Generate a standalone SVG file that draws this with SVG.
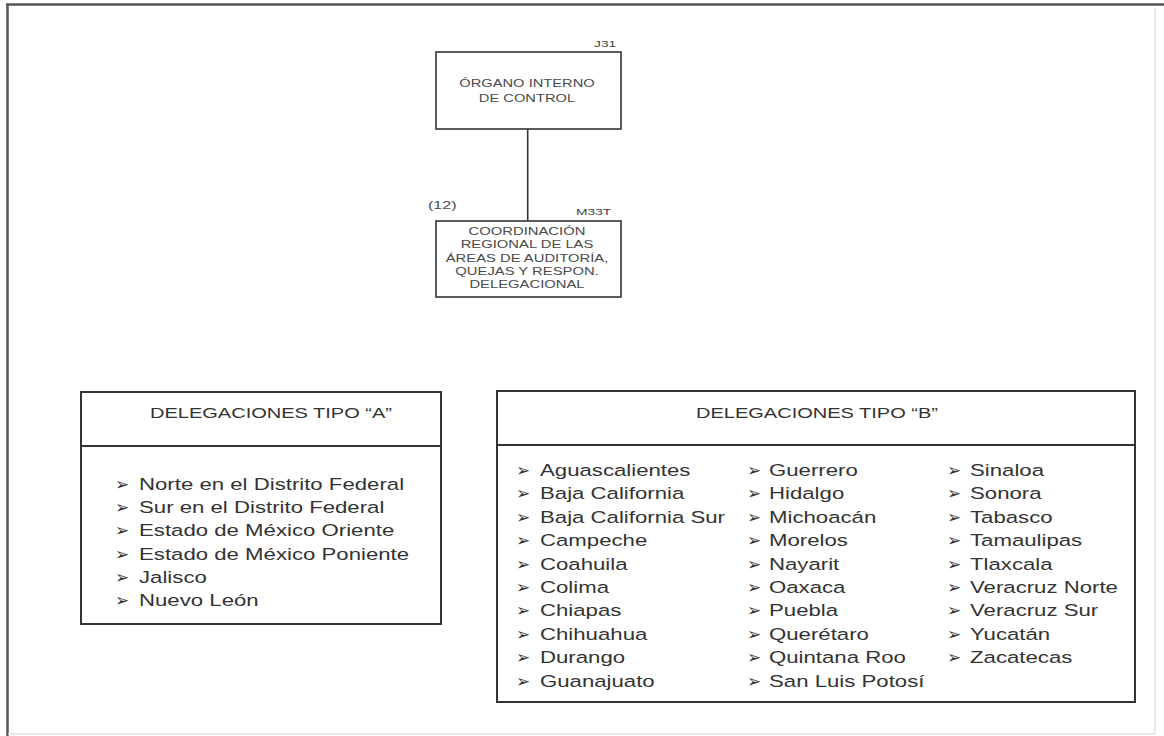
<svg xmlns="http://www.w3.org/2000/svg" width="1164" height="736" viewBox="0 0 1164 736">
<style>
.frame{fill:none;stroke:#555;stroke-width:2.5}
.faint{fill:none;stroke:#e2e2e2;stroke-width:1.5}
.box{fill:#fff;stroke:#333;stroke-width:2}
.sbox{fill:#fff;stroke:#333;stroke-width:1.6}
.conn{stroke:#333;stroke-width:1.6;fill:none}
text{font-family:"Liberation Sans",Arial,sans-serif;fill:#333}
.sm{font-size:10px;fill:#4a4a4a}
.sm2{font-size:10.5px;fill:#4a4a4a}
.code{font-size:9.5px;fill:#444}
.hdr{font-size:14.5px}
.li{font-size:16.5px}
.bul{font-family:"DejaVu Sans",sans-serif;font-size:17px;fill:#333}
</style>
<rect width="1164" height="736" fill="#fff"/>
<line class="frame" x1="6" y1="4.5" x2="1164" y2="4.5"/>
<line class="frame" x1="7.5" y1="4" x2="7.5" y2="736"/>
<line class="faint" x1="1155" y1="8" x2="1155" y2="734"/>
<line class="faint" x1="8" y1="734" x2="1155" y2="734"/>

<g id="connectors">
<line class="conn" x1="527.7" y1="129" x2="527.7" y2="221"/>
</g>

<g id="node-oic">
<rect class="sbox" x="436" y="52" width="185" height="77"/>
<text class="code" transform="translate(594,46.7) scale(1.45,1)">J31</text>
<g transform="translate(527,0) scale(1.47,1)">
<text class="sm" x="0" y="86.7" text-anchor="middle">ÓRGANO INTERNO</text>
<text class="sm" x="0" y="101.7" text-anchor="middle">DE CONTROL</text>
</g>
</g>

<g id="node-coord">
<rect class="sbox" x="436" y="221" width="185" height="76"/>
<text class="sm2" style="font-size:11.5px" transform="translate(428,209) scale(1.4,1)">(12)</text>
<text class="code" transform="translate(576,215) scale(1.45,1)">M33T</text>
<g transform="translate(527,0) scale(1.41,1)">
<text class="sm2" x="0" y="235" text-anchor="middle">COORDINACIÓN</text>
<text class="sm2" x="0" y="248.3" text-anchor="middle">REGIONAL  DE LAS</text>
<text class="sm2" x="0" y="262" text-anchor="middle">ÁREAS DE  AUDITORÍA,</text>
<text class="sm2" x="0" y="275.5" text-anchor="middle">QUEJAS Y RESPON.</text>
<text class="sm2" x="0" y="288.5" text-anchor="middle">DELEGACIONAL</text>
</g>
</g>

<g id="node-tipo-a">
<rect class="box" x="81" y="392" width="360" height="232"/>
<line class="box" x1="81" y1="446" x2="441" y2="446"/>
<text class="hdr" transform="translate(271,418) scale(1.38,1)" text-anchor="middle">DELEGACIONES TIPO “A”</text>
<g class="bullets">
<text class="bul" x="115" y="490">➢</text>
<text class="bul" x="115" y="513">➢</text>
<text class="bul" x="115" y="536">➢</text>
<text class="bul" x="115" y="560">➢</text>
<text class="bul" x="115" y="583">➢</text>
<text class="bul" x="115" y="606">➢</text>
</g>
<g transform="translate(139,0) scale(1.345,1)">
<text class="li" x="0" y="490">Norte en el Distrito Federal</text>
<text class="li" x="0" y="513">Sur en el Distrito Federal</text>
<text class="li" x="0" y="536">Estado de México Oriente</text>
<text class="li" x="0" y="560">Estado de México Poniente</text>
<text class="li" x="0" y="583">Jalisco</text>
<text class="li" x="0" y="606">Nuevo León</text>
</g>
</g>

<g id="node-tipo-b">
<rect class="box" x="497" y="391" width="638" height="311"/>
<line class="box" x1="497" y1="445" x2="1135" y2="445"/>
<text class="hdr" transform="translate(817,418) scale(1.38,1)" text-anchor="middle">DELEGACIONES TIPO “B”</text>
<g class="bullets">
<text class="bul" x="516" y="476">➢</text>
<text class="bul" x="516" y="499">➢</text>
<text class="bul" x="516" y="523">➢</text>
<text class="bul" x="516" y="546">➢</text>
<text class="bul" x="516" y="570">➢</text>
<text class="bul" x="516" y="593">➢</text>
<text class="bul" x="516" y="616">➢</text>
<text class="bul" x="516" y="640">➢</text>
<text class="bul" x="516" y="663">➢</text>
<text class="bul" x="516" y="687">➢</text>
<text class="bul" x="747" y="476">➢</text>
<text class="bul" x="747" y="499">➢</text>
<text class="bul" x="747" y="523">➢</text>
<text class="bul" x="747" y="546">➢</text>
<text class="bul" x="747" y="570">➢</text>
<text class="bul" x="747" y="593">➢</text>
<text class="bul" x="747" y="616">➢</text>
<text class="bul" x="747" y="640">➢</text>
<text class="bul" x="747" y="663">➢</text>
<text class="bul" x="747" y="687">➢</text>
<text class="bul" x="947" y="476">➢</text>
<text class="bul" x="947" y="499">➢</text>
<text class="bul" x="947" y="523">➢</text>
<text class="bul" x="947" y="546">➢</text>
<text class="bul" x="947" y="570">➢</text>
<text class="bul" x="947" y="593">➢</text>
<text class="bul" x="947" y="616">➢</text>
<text class="bul" x="947" y="640">➢</text>
<text class="bul" x="947" y="663">➢</text>
</g>
<g transform="translate(540,0) scale(1.345,1)">
<text class="li" x="0" y="476">Aguascalientes</text>
<text class="li" x="0" y="499">Baja California</text>
<text class="li" x="0" y="523">Baja California Sur</text>
<text class="li" x="0" y="546">Campeche</text>
<text class="li" x="0" y="570">Coahuila</text>
<text class="li" x="0" y="593">Colima</text>
<text class="li" x="0" y="616">Chiapas</text>
<text class="li" x="0" y="640">Chihuahua</text>
<text class="li" x="0" y="663">Durango</text>
<text class="li" x="0" y="687">Guanajuato</text>
</g>
<g transform="translate(769,0) scale(1.345,1)">
<text class="li" x="0" y="476">Guerrero</text>
<text class="li" x="0" y="499">Hidalgo</text>
<text class="li" x="0" y="523">Michoacán</text>
<text class="li" x="0" y="546">Morelos</text>
<text class="li" x="0" y="570">Nayarit</text>
<text class="li" x="0" y="593">Oaxaca</text>
<text class="li" x="0" y="616">Puebla</text>
<text class="li" x="0" y="640">Querétaro</text>
<text class="li" x="0" y="663">Quintana Roo</text>
<text class="li" x="0" y="687">San Luis Potosí</text>
</g>
<g transform="translate(970,0) scale(1.345,1)">
<text class="li" x="0" y="476">Sinaloa</text>
<text class="li" x="0" y="499">Sonora</text>
<text class="li" x="0" y="523">Tabasco</text>
<text class="li" x="0" y="546">Tamaulipas</text>
<text class="li" x="0" y="570">Tlaxcala</text>
<text class="li" x="0" y="593">Veracruz Norte</text>
<text class="li" x="0" y="616">Veracruz Sur</text>
<text class="li" x="0" y="640">Yucatán</text>
<text class="li" x="0" y="663">Zacatecas</text>
</g>
</g>
</svg>
